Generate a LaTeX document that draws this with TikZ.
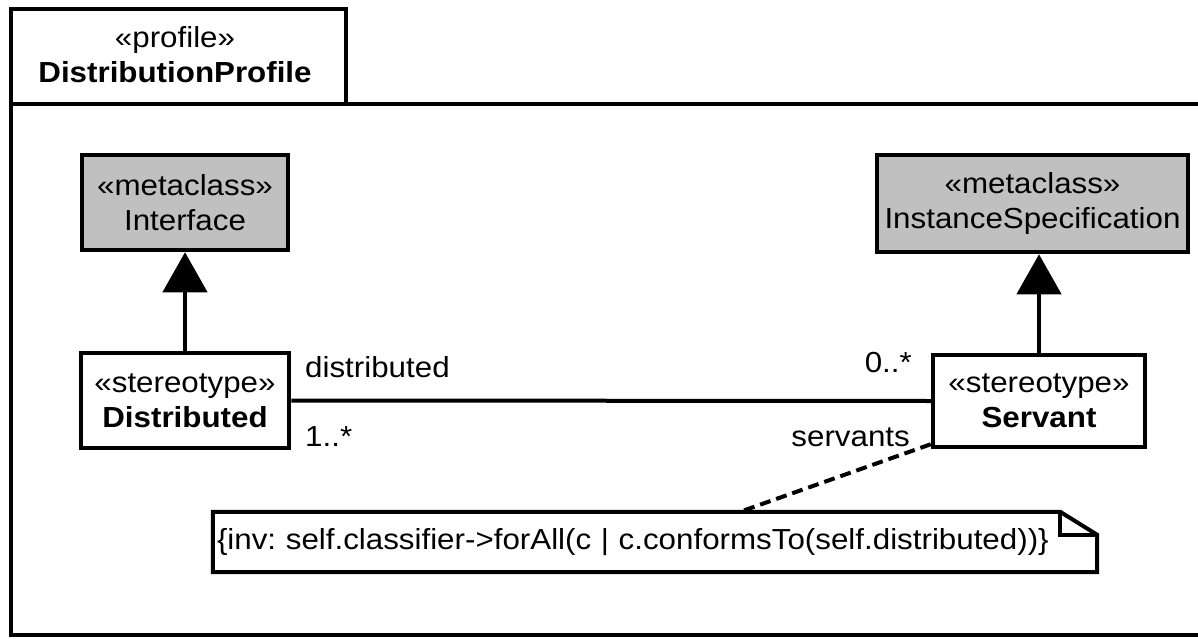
\documentclass[tikz,border=0pt]{standalone}
\usepackage{fontspec}
\setmainfont[FakeStretch=1.08]{Liberation Sans}
\usetikzlibrary{arrows.meta}
\definecolor{metagray}{RGB}{192,192,192}
\frenchspacing
\begin{document}
\begin{tikzpicture}[x=1pt,y=-1pt,
  every node/.style={font=\fontsize{29}{35}\selectfont},
  umlbox/.style={draw, line width=4.5pt, align=center, inner sep=0pt},
  meta/.style={umlbox, fill=metagray},
  gen/.style={line width=4.5pt, -{Triangle[width=44pt,length=40pt]}},
  assoc/.style={line width=4pt},
  frameline/.style={line width=4.5pt, line join=miter},
  notedash/.style={line width=4pt, dash pattern=on 11pt off 6pt},
  lbl/.style={inner sep=0pt},
]
\useasboundingbox (0,0) rectangle (1198,639);
\clip (0,0) rectangle (1198,639);
\fill[white] (0,0) rectangle (1198,639);

% package frame
\draw[frameline] (1210,104) -- (11,104) -- (11,635) -- (1210,635);
\draw[frameline] (11,104) -- (11,9) -- (346,9) -- (346,104);
\node[lbl, align=center] (title) at (175,55) {«profile»\\\textbf{DistributionProfile}};

% classes
\node[meta, minimum width=206pt, minimum height=95pt] (interface) at (185,202.5) {«metaclass»\\Interface};
\node[meta, minimum width=311pt, minimum height=97pt] (instspec) at (1032.5,203.5) {«metaclass»\\InstanceSpecification};
\node[umlbox, fill=white, minimum width=208pt, minimum height=95pt] (distributed) at (185,400.5) {«stereotype»\\\textbf{Distributed}};
\node[umlbox, fill=white, minimum width=212pt, minimum height=92pt] (servant) at (1039,401) {«stereotype»\\\textbf{Servant}};

% generalizations
\draw[gen] (distributed.north) -- (interface.south);
\draw[gen] (servant.north) -- (servant.north |- instspec.south);

% association
\draw[assoc] (distributed.east) -- (servant.west);
\node[lbl, anchor=west] (rolea) at (305,367) {distributed};
\node[lbl, anchor=west] (multa) at (305,437) {1..*};
\node[lbl, anchor=east] (multb) at (912,363) {0..*};
\node[lbl, anchor=east] (roleb) at (910,437) {servants};

% note
\node[inner sep=0pt, minimum width=884pt, minimum height=60pt, text width=876pt, align=left] (note) at (655,542) {\{inv: self.classifier->forAll(c | c.conformsTo(self.distributed))\}};
\draw[line width=4pt, line join=miter]
  (note.north west) -- ([xshift=-37pt]note.north east) -- ([yshift=-23pt]note.north east)
  -- (note.south east) -- (note.south west) -- cycle;
\draw[line width=4pt, line join=miter]
  ([xshift=-37pt]note.north east) -- ([xshift=-37pt,yshift=-23pt]note.north east) -- ([yshift=-23pt]note.north east);
\coordinate (noteattach) at ([xshift=85pt]note.north);
\draw[notedash] ([yshift=5pt]servant.south west) -- (noteattach);
\end{tikzpicture}
\end{document}
